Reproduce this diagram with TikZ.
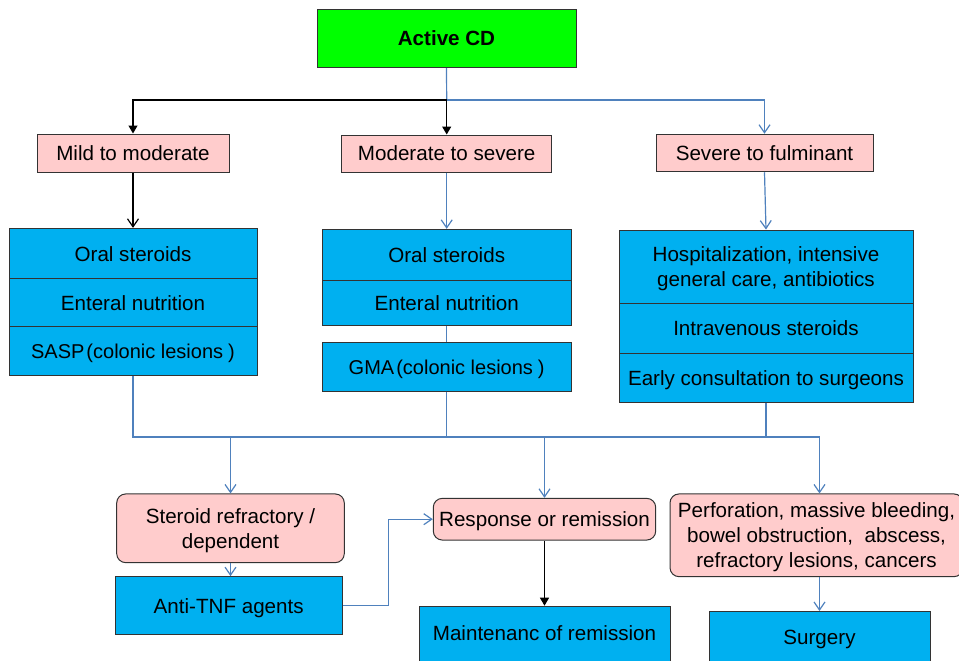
\documentclass[tikz,border=0pt]{standalone}
\usepackage{fontspec}
\setmainfont{Liberation Sans}
\usetikzlibrary{arrows.meta}
\definecolor{cdgreen}{HTML}{00FF00}
\definecolor{cdpink}{HTML}{FFCCCC}
\definecolor{cdblue}{HTML}{00B0F0}
\definecolor{cdline}{HTML}{4F81BD}
\newcommand\cdtop{\rule{0pt}{19.6pt}}
\newcommand\cdbot{\rule[-5pt]{0pt}{5pt}}
\tikzset{
  base/.style={draw=black!80, line width=1pt, inner sep=0pt, align=center,
    font=\fontsize{20.6}{25}\selectfont, text=black},
  oneline/.style={text height=14.6pt, text depth=0pt},
  greenbox/.style={base, oneline, fill=cdgreen},
  pinkbox/.style={base, oneline, fill=cdpink},
  pinkround/.style={base, fill=cdpink, rounded corners=9pt},
  bluebox/.style={base, oneline, fill=cdblue},
  bluemulti/.style={base, fill=cdblue},
  plaintext/.style={font=\fontsize{20.6}{25}\selectfont, text=black, inner sep=0pt, oneline},
  bline/.style={draw=cdline, line width=1.2pt},
  barrow/.style={bline, -{Straight Barb[length=8pt,width=11pt]}},
  kline/.style={draw=black, line width=1.2pt},
  karrow/.style={kline, -{Triangle[length=8pt,width=9pt]}},
  kvarrow/.style={kline, -{Straight Barb[length=8pt,width=11pt]}},
}
\begin{document}
\begin{tikzpicture}[x=1pt,y=1pt]
\useasboundingbox (0,0) rectangle (959,-661);
% top
\node[greenbox, minimum width=259, minimum height=58, font=\fontsize{20.6}{25}\selectfont\bfseries] (active) at (446.5,-38.6) {Active CD};
\node[pinkbox, minimum width=192, minimum height=38] (mild) at (133,-153) {Mild to moderate};
\node[pinkbox, minimum width=210, minimum height=37] (modsev) at (446.7,-153.5) {Moderate to severe};
\node[pinkbox, minimum width=217, minimum height=37.5] (sevful) at (764.5,-153) {Severe to fulminant};
% left stack
\node[bluebox, minimum width=248, minimum height=50.7] (L1) at (133,-253.7) {Oral steroids};
\node[bluebox, minimum width=248, minimum height=47.7] (L2) at (133,-302.8) {Enteral nutrition};
\node[bluebox, minimum width=248, minimum height=49.3, font=\fontsize{20}{25}\selectfont] (L3) at (133,-351.3) {SASP\hspace{2pt}(colonic lesions\hspace{5pt})};
% middle stack
\node[bluebox, minimum width=249, minimum height=50.7] (M1) at (446.7,-254.7) {Oral steroids};
\node[bluebox, minimum width=249, minimum height=45.3] (M2) at (446.7,-302.7) {Enteral nutrition};
\node[bluebox, minimum width=249, minimum height=48.6, font=\fontsize{20}{25}\selectfont] (M3) at (446.7,-367) {GMA\hspace{2pt}(colonic lesions\hspace{5pt})};
% right stack
\node[bluemulti, minimum width=294, minimum height=73.3] (R1) at (766,-266.7) {\cdtop Hospitalization, intensive\\general care, antibiotics\cdbot};
\node[bluebox, minimum width=294, minimum height=50] (R2) at (766,-328.3) {Intravenous steroids};
\node[bluebox, minimum width=294, minimum height=49.4] (R3) at (766,-378) {Early consultation to surgeons};
% bottom
\node[pinkround, minimum width=227.6, minimum height=68.7] (steroid) at (230.5,-528.3) {\cdtop Steroid refractory /\\dependent\cdbot};
\node[bluebox, minimum width=227.3, minimum height=58.3] (anti) at (228.7,-605.8) {Anti-TNF agents};
\node[pinkround, oneline, minimum width=222.4, minimum height=41.7] (resp) at (544.5,-519.2) {Response or remission};
\node[bluebox, minimum width=251, minimum height=60, anchor=north] (maint) at (544.5,-605.7) {};
\node[plaintext] (mainttxt) at (544.5,-633.5) {Maintenanc of remission};
\node[pinkround, minimum width=293, minimum height=82.7] (perf) at (816.5,-535.3) {\cdtop Perforation, massive bleeding,\\bowel obstruction,\ \ abscess,\\refractory lesions, cancers\cdbot};
\node[bluebox, minimum width=221, minimum height=56, anchor=north] (surg) at (819.5,-611) {};
\node[plaintext] (surgtxt) at (819.5,-637) {Surgery};
% top connectors
\coordinate (split) at (446.7,-100);
\draw[bline] (active.south) -- (split);
\draw[barrow] (split) -| (sevful.north);
\draw[karrow] (split) -| (mild.north);
\draw[karrow] (split) -- (modsev.north);
\draw[kvarrow] (mild.south) -- (L1.north);
\draw[barrow] (modsev.south) -- (M1.north);
\draw[barrow] (sevful.south) -- (R1.north);
\draw[bline] (M2.south) -- (M3.north);
% bus
\coordinate (bus) at (0,-437);
\draw[bline] (L3.south) |- (R3.south |- bus) -- (R3.south);
\draw[bline] (M3.south) -- (M3.south |- bus);
\draw[barrow] (R3.south |- bus) -| (surg.north |- perf.north);
\draw[barrow] (steroid.north |- bus) -- (steroid.north);
\draw[barrow] (resp.north |- bus) -- (resp.north);
% bottom connectors
\draw[barrow] (steroid.south) -- (steroid.south |- anti.north);
\draw[barrow] (anti.east) -- ++(45.4,0) |- (resp.west);
\draw[karrow] (resp.south) -- (maint.north);
\draw[barrow] (surg.north |- perf.south) -- (surg.north);
\end{tikzpicture}
\end{document}
